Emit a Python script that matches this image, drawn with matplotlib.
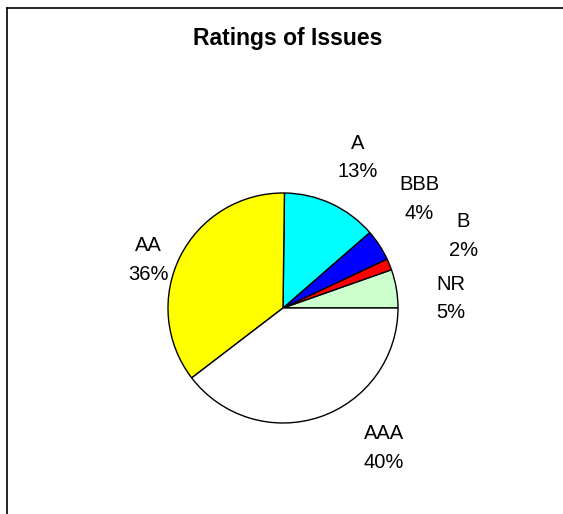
import numpy as np
import matplotlib
matplotlib.use("Agg")
import matplotlib.pyplot as plt
from matplotlib.lines import Line2D

# Data (counterclockwise from 3 o'clock)
ratings = ["NR", "B", "BBB", "A", "AA", "AAA"]
shares = [5.4, 1.6, 4.4, 13.4, 35.6, 39.6]
pct_labels = ["5%", "2%", "4%", "13%", "36%", "40%"]
colours = ["#CCFFCC", "#FF0000", "#0000FF", "#00FFFF", "#FFFF00", "#FFFFFF"]

plt.rcParams["font.family"] = ["Liberation Sans", "DejaVu Sans"]

W, H = 563, 514
fig = plt.figure(figsize=(W / 100, H / 100), dpi=100)

# pie centre and radius in pixels
cx, cy, r = 283, 308, 115
ax = fig.add_axes([(cx - r) / W, (H - cy - r) / H, 2 * r / W, 2 * r / H])
wedges, _ = ax.pie(shares, colors=colours, startangle=0, counterclock=True,
                   wedgeprops=dict(edgecolor="black", linewidth=1.0))
ax.set_xlim(-1, 1)
ax.set_ylim(-1, 1)
ax.set_aspect("equal")
ax.axis("off")

# label placement (radius factor, angle shift in degrees) - Excel "best fit" look
label_dist = [1.46, 1.69, 1.52, 1.46, 1.24, 1.50]
label_shift = [-6.5, -0.5, 5.5, -1.5, 7, 17]
for w, name, pct, d, s in zip(wedges, ratings, pct_labels, label_dist, label_shift):
    ang = np.deg2rad((w.theta1 + w.theta2) / 2 + s)
    ax.text(d * np.cos(ang), d * np.sin(ang), f"{name}\n{pct}", ha="center", va="center",
            fontsize=14.5, linespacing=1.65, clip_on=False)

fig.text(288 / W, 1 - 39 / H, "Ratings of Issues", ha="center", va="center",
         fontsize=16.5, fontweight="bold")

# chart area border (cropped on the right and bottom)
x0, y0 = 6.5 / W, 1 - 8 / H
fig.add_artist(Line2D([x0, x0], [0, y0], color="black", linewidth=1.2, transform=fig.transFigure))
fig.add_artist(Line2D([x0, 1], [y0, y0], color="black", linewidth=1.2, transform=fig.transFigure))

fig.savefig("out.png", dpi=100, facecolor="white")
